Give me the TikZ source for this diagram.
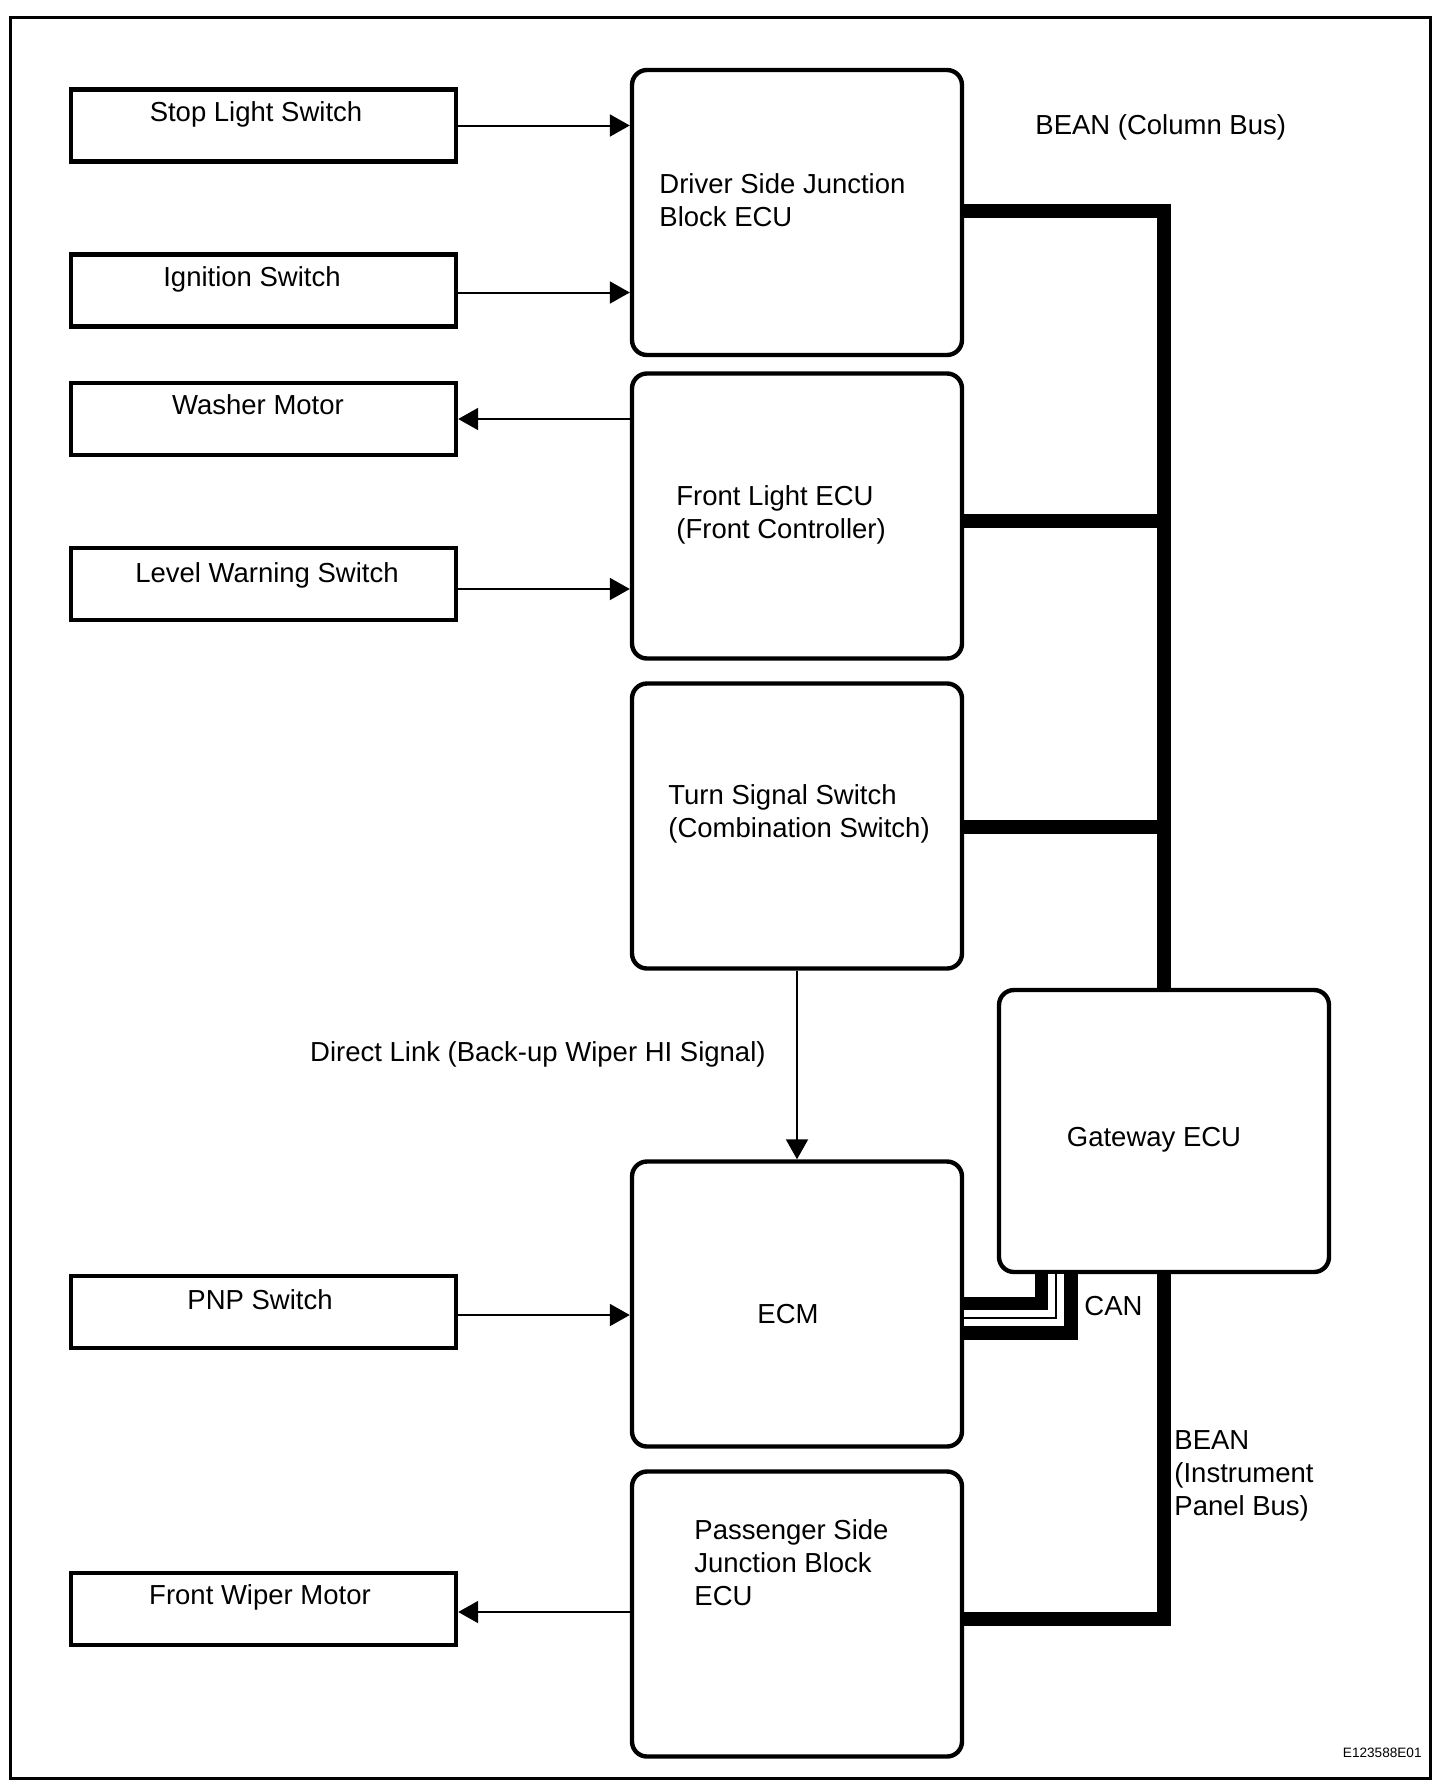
\documentclass[tikz,border=0pt]{standalone}
\usepackage{fontspec}
\setmainfont{Liberation Sans}
\usetikzlibrary{arrows.meta,calc}
\tikzset{
  txt/.style={font=\fontsize{13.75}{16.5}\selectfont, inner sep=0pt, align=left},
  sbox/.style={draw, line width=2.2pt, rectangle, fill=white, minimum width=192.5pt, minimum height=36pt, inner sep=0pt},
  ecu/.style={draw, line width=2.2pt, rectangle, rounded corners=7.5pt, fill=white, minimum width=165pt, minimum height=142.5pt, inner sep=0pt},
  gwbox/.style={draw, line width=2.2pt, rectangle, rounded corners=7.5pt, fill=white, minimum width=165pt, minimum height=141pt, inner sep=0pt},
  sig/.style={line width=1pt, -{Triangle[length=10pt,width=11pt]}},
  bus/.style={line width=7pt, line join=miter},
  canouter/.style={line width=21.5pt, line join=miter},
  canwhite/.style={line width=7.8pt, white, line join=miter},
  caninner/.style={line width=1.4pt, line join=miter}
}
\begin{document}
\begin{tikzpicture}[x=0.5pt,y=-0.5pt]
\useasboundingbox (0,0) rectangle (1456,1788);
% frame
\draw[line width=1.5pt] (10,17) rectangle (1430,1778);

% left boxes
\node[sbox] (sls) at (263.5,125.5) {};
\node[sbox] (ign) at (263.5,290.5) {};
\node[sbox] (wm)  at (263.5,419) {};
\node[sbox] (lws) at (263.5,584) {};
\node[sbox] (pnp) at (263.5,1312) {};
\node[sbox] (fwm) at (263.5,1609) {};

\node[txt] (tsls) at (256,114) {Stop Light Switch};
\node[txt] (tign) at (252,279) {Ignition Switch};
\node[txt] (twm)  at (258,405) {Washer Motor};
\node[txt] (tlws) at (267,575) {Level Warning Switch};
\node[txt] (tpnp) at (260,1300) {PNP Switch};
\node[txt] (tfwm) at (260,1597) {Front Wiper Motor};

% bus coordinates
\coordinate (busTop) at (1164,211);
\coordinate (busBot) at (1164,1619);
\coordinate (canC) at (1056,1318);

% center boxes
\node[ecu] (dsj) at (797,212.5) {};
\node[ecu] (fl)  at (797,516) {};
\node[ecu] (tss) at (797,826) {};
\node[ecu] (ecm) at (797,1304) {};
\node[ecu] (psj) at (797,1614) {};
\node[gwbox] (gw) at (1164,1131) {};

\draw[bus] (dsj.east |- busTop) -- (busTop) -- (gw.north);
\draw[bus] (fl.east |- 0,521) -- (1164,521);
\draw[bus] (tss.east |- 0,827) -- (1164,827);
\draw[bus] (gw.south) -- (busBot) -- (psj.east |- busBot);

% CAN
\draw[canouter] (ecm.east |- canC) -- (canC) -- (canC |- gw.south);
\draw[canwhite] (ecm.east |- canC) -- (canC) -- (canC |- gw.south);
\draw[caninner] (ecm.east |- canC) -- (canC) -- (canC |- gw.south);

% box texts
\node[txt, anchor=west] (tdsj) at (659,200) {Driver Side Junction\\Block ECU};
\node[txt, anchor=west] (tfl)  at (676,515) {Front Light ECU\\(Front Controller)};
\node[txt, anchor=west] (ttss) at (668,814) {Turn Signal Switch\\(Combination Switch)};
\node[txt] (tecm) at (788,1314) {ECM};
\node[txt, anchor=west] (tpsj) at (694,1563) {Passenger Side\\Junction Block\\ECU};
\node[txt] (tgw) at (1154,1140) {Gateway ECU};

% bus labels
\node[txt, anchor=west] (tbean1) at (1035,127) {BEAN (Column Bus)};
\node[txt, anchor=west] (tcan) at (1084,1306) {CAN};
\node[txt, anchor=west] (tbean2) at (1174,1476) {BEAN\\(Instrument\\Panel Bus)};
\node[txt, anchor=east] (tdl) at (766,1054) {Direct Link (Back-up Wiper HI Signal)};
\node[font=\fontsize{6.8}{8}\selectfont, inner sep=0pt, anchor=east] (code) at (1422,1753) {E123588E01};

% signal arrows
\draw[sig] (sls.east) -- (sls.east -| dsj.west);
\draw[sig] ([yshift=-1pt]ign.east) -- ([yshift=-1pt]ign.east -| dsj.west);
\draw[sig] (wm.east -| fl.west) -- (wm.east);
\draw[sig] ([yshift=-2.5pt]lws.east) -- ([yshift=-2.5pt]lws.east -| fl.west);
\draw[sig] ([yshift=-1.5pt]pnp.east) -- ([yshift=-1.5pt]pnp.east -| ecm.west);
\draw[sig] ([yshift=-1.5pt]fwm.east -| psj.west) -- ([yshift=-1.5pt]fwm.east);
\draw[sig] (tss.south) -- (ecm.north);
\end{tikzpicture}
\end{document}
